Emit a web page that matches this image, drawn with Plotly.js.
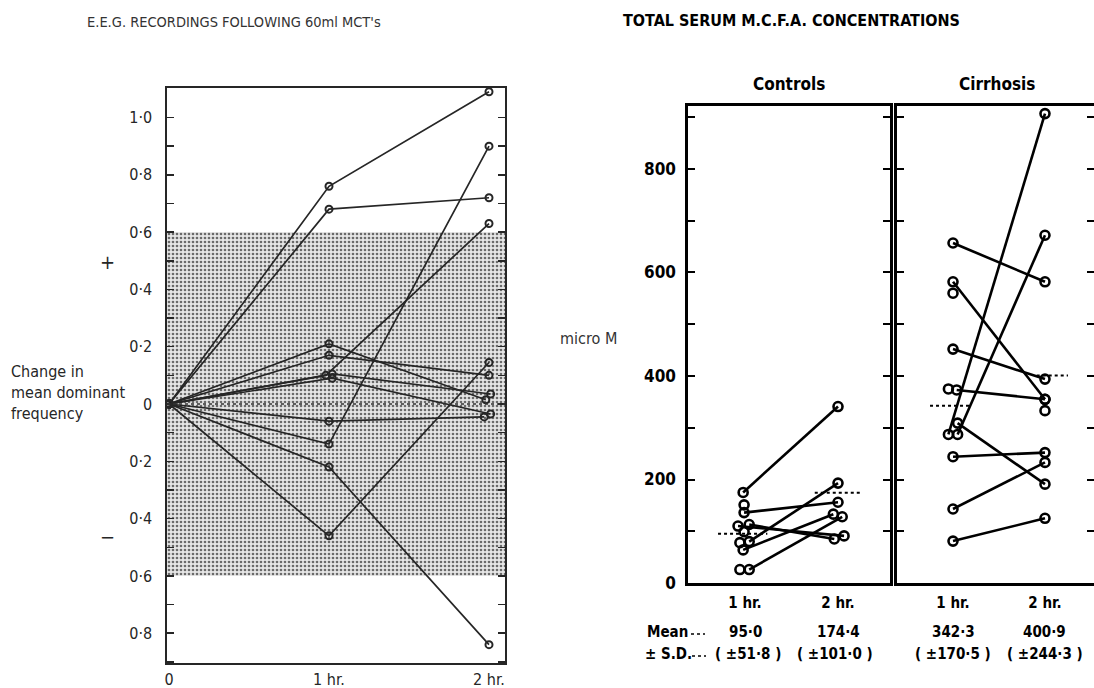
<!DOCTYPE html>
<html>
<head>
<meta charset="utf-8">
<script src="https://cdn.plot.ly/plotly-3.0.1.min.js"></script>
<style>html,body{margin:0;padding:0;background:#fff;}#chart{width:1094px;height:688px;}</style>
</head>
<body>
<div id="chart"></div>
<script>
// ---------- DATA ----------
// Left panel: change in mean dominant EEG frequency (start = 0)
const eegTimes = [0, 1, 2];
const eegTickLabels = ['0', '1 hr.', '2 hr.'];
const eeg1hr = [0.76, 0.68, 0.21, 0.17, 0.105, 0.10, 0.09, -0.06, -0.14, -0.22, -0.46];
const eeg2hr = [1.09, 0.72, 0.015, 0.10, 0.035, 0.63, -0.035, -0.045, 0.90, -0.84, 0.145];
const eegYTicks = [-0.8, -0.6, -0.4, -0.2, 0, 0.2, 0.4, 0.6, 0.8, 1.0];
const eegYLabels = ['0·8', '0·6', '0·4', '0·2', '0', '0·2', '0·4', '0·6', '0·8', '1·0'];
const normalBand = [-0.6, 0.6];

// Right panels: total serum MCFA concentrations (micro M)
const timeLabels = ['1 hr.', '2 hr.'];
const ctrl1hr = [175, 151, 136, 110, 113, 99, 78, 80, 64, 26, 26];
const ctrl2hr = [341, null, 156, 91, 85, null, null, 193, 133, null, 128];
const cirr1hr = [657, 582, 560, 452, 375, 373, 309, 287, 287, 244, 143, 81, null];
const cirr2hr = [582, 355, null, 394, null, 355, 191, 907, 672, 252, 233, 125, 333];
const ctrlMean = [95.0, 174.4];
const ctrlSD = [51.8, 101.0];
const cirrMean = [342.3, 400.9];
const cirrSD = [170.5, 244.3];
const concTicks = [0, 200, 400, 600, 800];

// small horizontal offsets so overlapping circles stay visible
const ctrlJit1 = [-0.02, -0.01, -0.01, -0.075, 0.045, -0.01, -0.055, 0.045, -0.02, -0.055, 0.045];
const ctrlJit2 = [0, 0, 0, 0.065, -0.04, 0, 0, 0, -0.05, 0, 0.045];
const cirrJit1 = [0, 0, 0, 0, -0.05, 0.04, 0.05, -0.05, 0.05, 0, 0, 0, 0];
const cirrJit2 = [0, 0, 0, 0, 0, 0, 0, 0, 0, 0, 0, 0, 0];
const eegJit1 = [0, 0, 0, 0, 0.02, -0.02, 0.02, 0, 0, 0, 0];
const eegJit2 = [0, 0, -0.02, 0, 0.01, 0, 0.01, -0.03, 0, 0, 0];

// ---------- HELPERS ----------
const W = 1094, H = 688;
const fx = p => p / W;
const fy = p => 1 - p / H;
const fmt = v => v.toFixed(1).replace('.', '·');

const LF = 'DejaVu Sans Condensed';
const BF = 'DejaVu Sans Condensed';
const leftInk = '#262626';
const boldFont = (size) => ({family: BF, size: size, color: '#000', weight: 'bold'});

const traces = [];

// shaded normal band (stippled)
traces.push({
  x: [-0.0125, 2.1, 2.1, -0.0125], y: [normalBand[0], normalBand[0], normalBand[1], normalBand[1]],
  xaxis: 'x', yaxis: 'y', mode: 'lines', fill: 'toself', line: {width: 0},
  fillcolor: 'rgba(0,0,0,0)',
  fillpattern: {shape: '.', fgcolor: '#6a6a6a', bgcolor: '#e6e6e6', size: 4, solidity: 0.35},
  hoverinfo: 'skip', showlegend: false
});

for (let i = 0; i < eeg1hr.length; i++) {
  traces.push({
    x: [eegTimes[0], eegTimes[1] + eegJit1[i], eegTimes[2] + eegJit2[i]],
    y: [0, eeg1hr[i], eeg2hr[i]],
    xaxis: 'x', yaxis: 'y', mode: 'lines+markers',
    line: {color: leftInk, width: 1.7},
    marker: {symbol: 'circle-open', size: 7, color: leftInk, line: {width: 2}},
    showlegend: false, hoverinfo: 'x+y'
  });
}

function panel(v1, v2, j1, j2, xa, ya) {
  for (let i = 0; i < v1.length; i++) {
    traces.push({
      x: [1 + j1[i], 2 + j2[i]], y: [v1[i], v2[i]],
      xaxis: xa, yaxis: ya, mode: 'lines+markers',
      line: {color: '#000', width: 2.6},
      marker: {symbol: 'circle-open', size: 9, color: '#000', line: {width: 2.6}},
      showlegend: false, connectgaps: false
    });
  }
}
panel(ctrl1hr, ctrl2hr, ctrlJit1, ctrlJit2, 'x2', 'y2');
panel(cirr1hr, cirr2hr, cirrJit1, cirrJit2, 'x3', 'y3');

// ---------- LAYOUT ----------
const concAxis = (dom, showLabels) => ({
  domain: dom, range: [0, 921.7], tickvals: concTicks, ticks: 'inside', ticklen: 7, tickwidth: 2,
  tickcolor: '#000', showticklabels: showLabels,
  tickfont: boldFont(17), ticklabelstandoff: 6,
  minor: {dtick: 100, tick0: 0, ticks: 'inside', ticklen: 7, tickwidth: 2, tickcolor: '#000'},
  showline: true, linewidth: 2.6, linecolor: '#000', mirror: 'ticks',
  showgrid: false, zeroline: false, fixedrange: true
});
const timeAxis = (dom, rng) => ({
  domain: dom, range: rng, tickvals: [1, 2], ticktext: timeLabels, ticks: '',
  tickfont: boldFont(15), ticklabelstandoff: 4,
  showline: true, linewidth: 2.6, linecolor: '#000', mirror: true,
  showgrid: false, zeroline: false, fixedrange: true
});

const shapes = [
  {type: 'line', xref: 'x domain', yref: 'y', x0: 0, x1: 1, y0: 0, y1: 0,
   line: {color: '#333', width: 1.5, dash: 'dot'}, layer: 'above'}
];
const meanSpan = [[-0.29, 0.24], [-0.25, 0.26]];
const meanSpanC = [[-0.25, 0.2], [-0.09, 0.25]];
[0, 1].forEach(k => {
  shapes.push({type: 'line', xref: 'x2', yref: 'y2', x0: 1 + k + meanSpan[k][0], x1: 1 + k + meanSpan[k][1],
    y0: ctrlMean[k], y1: ctrlMean[k], line: {color: '#000', width: 2, dash: 'dot'}});
  shapes.push({type: 'line', xref: 'x3', yref: 'y3', x0: 1 + k + meanSpanC[k][0], x1: 1 + k + meanSpanC[k][1],
    y0: cirrMean[k], y1: cirrMean[k], line: {color: '#000', width: 2, dash: 'dot'}});
});
// dotted keys after "Mean" and "± S.D."
shapes.push({type: 'line', xref: 'paper', yref: 'paper', x0: fx(691), x1: fx(705), y0: fy(634), y1: fy(634),
  line: {color: '#000', width: 1.6, dash: 'dot'}});
shapes.push({type: 'line', xref: 'paper', yref: 'paper', x0: fx(692), x1: fx(706), y0: fy(656), y1: fy(656),
  line: {color: '#000', width: 1.6, dash: 'dot'}});

const note = (text, x, y, font, extra) => Object.assign({
  text: text, x: x, y: y, xref: 'paper', yref: 'paper', xanchor: 'center', yanchor: 'middle',
  showarrow: false, font: font
}, extra || {});

const annotations = [
  note("E.E.G. RECORDINGS FOLLOWING 60ml MCT's", fx(234), fy(22), {family: LF, size: 14.5, color: '#333'}),
  note('TOTAL SERUM M.C.F.A. CONCENTRATIONS', fx(791), fy(21), boldFont(16)),
  note('Controls', fx(789), fy(84), boldFont(17)),
  note('Cirrhosis', fx(997), fy(84), boldFont(17)),
  note('micro M', fx(588), fy(338), {family: LF, size: 16, color: '#333'}),
  note('+', fx(107), fy(262), {family: LF, size: 20, color: leftInk}),
  note('\u2212', fx(107), fy(537), {family: LF, size: 20, color: leftInk}),
  note('Change in<br>mean dominant<br>frequency', fx(9), fy(392), {family: LF, size: 16, color: leftInk},
       {xanchor: 'left', align: 'left'}),
  note('Mean', fx(645), fy(632), boldFont(15), {xanchor: 'left'}),
  note('± S.D.', fx(643), fy(654), boldFont(15), {xanchor: 'left'})
];
[0, 1].forEach(k => {
  annotations.push(note(fmt(ctrlMean[k]), 1 + k, fy(632), boldFont(15), {xref: 'x2'}));
  annotations.push(note('( ±' + fmt(ctrlSD[k]) + ' )', 1 + k + (k === 0 ? 0.03 : -0.03), fy(654), boldFont(15), {xref: 'x2'}));
  annotations.push(note(fmt(cirrMean[k]), 1 + k, fy(632), boldFont(15), {xref: 'x3'}));
  annotations.push(note('( ±' + fmt(cirrSD[k]) + ' )', 1 + k, fy(654), boldFont(15), {xref: 'x3'}));
});

const layout = {
  width: W, height: H, margin: {l: 0, r: 0, t: 0, b: 0},
  paper_bgcolor: '#fff', plot_bgcolor: 'rgba(0,0,0,0)', showlegend: false,
  xaxis: {
    domain: [fx(167), fx(505)], range: [-0.0125, 2.1], tickvals: eegTimes, ticktext: eegTickLabels,
    ticks: '', tickfont: {family: LF, size: 16, color: leftInk}, ticklabelstandoff: 1,
    showline: true, linewidth: 1.6, linecolor: leftInk, mirror: true,
    showgrid: false, zeroline: false, fixedrange: true
  },
  yaxis: {
    domain: [fy(663), fy(88)], range: [-0.904, 1.103], tickvals: eegYTicks, ticktext: eegYLabels,
    ticks: 'inside', ticklen: 7, tickwidth: 1.5, tickcolor: leftInk,
    minor: {dtick: 0.1, tick0: 0, ticks: 'inside', ticklen: 7, tickwidth: 1.5, tickcolor: leftInk},
    tickfont: {family: LF, size: 16, color: leftInk}, ticklabelstandoff: 10,
    showline: true, linewidth: 1.6, linecolor: leftInk, mirror: 'ticks',
    showgrid: false, zeroline: false, fixedrange: true
  },
  xaxis2: Object.assign(timeAxis([fx(688), fx(890)], [0.387, 2.559]), {anchor: 'y2'}),
  yaxis2: Object.assign(concAxis([fy(583), fy(106)], true), {anchor: 'x2'}),
  xaxis3: Object.assign(timeAxis([fx(897), 1], [0.391, 2.533]), {anchor: 'y3'}),
  yaxis3: Object.assign(concAxis([fy(583), fy(106)], false), {anchor: 'x3'}),
  shapes: shapes,
  annotations: annotations
};

Plotly.newPlot('chart', traces, layout, {displayModeBar: false, staticPlot: true});
</script>
</body>
</html>
